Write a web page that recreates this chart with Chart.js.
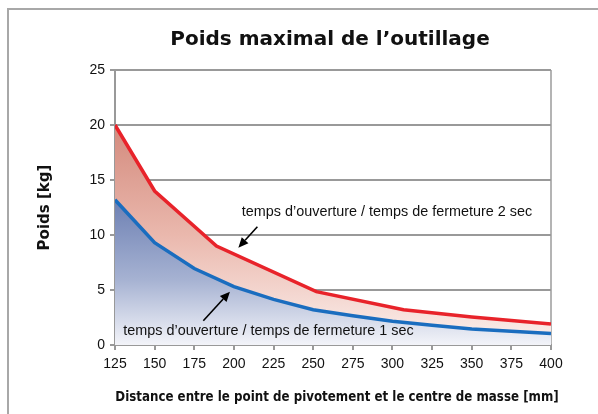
<!DOCTYPE html>
<html>
<head>
<meta charset="utf-8">
<script src="https://cdn.jsdelivr.net/npm/chart.js@4"></script>
<style>
  html, body { margin: 0; padding: 0; background: #fff; }
  #wrap { position: relative; width: 598px; height: 414px; overflow: hidden; }
  #frame { position: absolute; left: 7px; top: 8px; width: 620px; height: 440px; border: 2px solid #a8a8a8; box-sizing: border-box; }
  canvas { position: absolute; left: 0; top: 0; }
</style>
</head>
<body>
<div id="wrap">
  <div id="frame"></div>
  <canvas id="poids-chart" width="598" height="414"></canvas>
</div>
<script>
// distance [mm] / poids [kg]
const distance2s = [125, 150, 189, 252, 307, 350, 400];
const poids2s = [20, 14, 9, 4.85, 3.2, 2.55, 1.9];
const distance1s = [125, 150, 175, 200, 225, 250, 275, 300, 325, 350, 375, 400];
const poids1s = [13.2, 9.3, 6.95, 5.3, 4.15, 3.2, 2.65, 2.15, 1.8, 1.45, 1.24, 1.05];
const xTicks = [125, 150, 175, 200, 225, 250, 275, 300, 325, 350, 375, 400];
const yTicks = [0, 5, 10, 15, 20, 25];

const chartTitle = 'Poids maximal de l\u2019outillage';
const xTitle = 'Distance entre le point de pivotement et le centre de masse [mm]';
const yTitle = 'Poids [kg]';

// annotations, in data units
const notes = ['temps d\u2019ouverture / temps de fermeture 2 sec', 'temps d\u2019ouverture / temps de fermeture 1 sec'];
const noteAt = [[205, 12.1], [130.2, 1.3]];
const arrowFrom = [[214.8, 10.75], [180.7, 2.2]];
const arrowTo = [[202.8, 8.85], [197.5, 4.85]];

const toPoints = (xs, ys) => xs.map((x, i) => ({ x, y: ys[i] }));

function fillGradient(stops, fromValue) {
    return (context) => {
        const { chart } = context;
        const area = chart.chartArea;
        if (!area) return 'transparent';
        const y = chart.scales.y;
        const g = chart.ctx.createLinearGradient(0, y.getPixelForValue(fromValue), 0, area.bottom);
        stops.forEach(([pos, col]) => g.addColorStop(pos, col));
        return g;
    };
}

const textPlugin = {
    id: 'texts',
    afterDraw(chart) {
        const { ctx, chartArea, scales: { x, y } } = chart;
        ctx.save();
        ctx.fillStyle = '#111';
        ctx.textAlign = 'center';
        ctx.textBaseline = 'middle';

        ctx.font = 'bold 20px "DejaVu Sans"';
        ctx.fillText(chartTitle, 330, 40);

        ctx.font = 'bold 13.2px "DejaVu Sans Condensed", "DejaVu Sans"';
        ctx.fillText(xTitle, (chartArea.left + chartArea.right) / 2 + 4, 398);

        ctx.save();
        ctx.translate(45, (chartArea.top + chartArea.bottom) / 2);
        ctx.rotate(-Math.PI / 2);
        ctx.font = 'bold 15px "DejaVu Sans"';
        ctx.fillText(yTitle, 0, 0);
        ctx.restore();

        ctx.textAlign = 'left';
        ctx.font = '14.4px "Liberation Sans"';
        notes.forEach((t, i) => {
            ctx.fillText(t, x.getPixelForValue(noteAt[i][0]), y.getPixelForValue(noteAt[i][1]));
        });

        ctx.strokeStyle = '#000';
        ctx.fillStyle = '#000';
        ctx.lineWidth = 1.6;
        arrowFrom.forEach((from, i) => {
            const x0 = x.getPixelForValue(from[0]);
            const y0 = y.getPixelForValue(from[1]);
            const x1 = x.getPixelForValue(arrowTo[i][0]);
            const y1 = y.getPixelForValue(arrowTo[i][1]);
            const a = Math.atan2(y1 - y0, x1 - x0);
            const head = 10;
            const bx = x1 - head * Math.cos(a);
            const by = y1 - head * Math.sin(a);
            ctx.beginPath();
            ctx.moveTo(x0, y0);
            ctx.lineTo(bx, by);
            ctx.stroke();
            ctx.beginPath();
            ctx.moveTo(x1, y1);
            ctx.lineTo(bx + 4.5 * Math.sin(a), by - 4.5 * Math.cos(a));
            ctx.lineTo(bx - 4.5 * Math.sin(a), by + 4.5 * Math.cos(a));
            ctx.closePath();
            ctx.fill();
        });
        ctx.restore();
    },
};

new Chart(document.getElementById('poids-chart'), {
    type: 'line',
    data: {
        datasets: [
            {
                label: '1 sec',
                data: toPoints(distance1s, poids1s),
                borderColor: '#1a6dbf',
                borderWidth: 3.5,
                pointRadius: 0,
                tension: 0,
                fill: 'origin',
                backgroundColor: fillGradient([[0, '#6d80b3'], [0.55, '#a6b2d2'], [1, '#f3f4f9']], 13.2),
                order: 1,
            },
            {
                label: '2 sec',
                data: toPoints(distance2s, poids2s),
                borderColor: '#e8232a',
                borderWidth: 3.5,
                pointRadius: 0,
                tension: 0,
                fill: '-1',
                backgroundColor: fillGradient([[0, '#d38a7d'], [0.5, '#eab8ad'], [1, '#fcf1ee']], 20),
                order: 2,
            },
        ],
    },
    options: {
        responsive: false,
        animation: false,
        events: [],
        layout: { padding: { top: 70, right: 47, left: 0, bottom: 0 } },
        plugins: {
            legend: { display: false },
            title: { display: false },
            tooltip: { enabled: false },
        },
        scales: {
            x: {
                type: 'linear',
                min: xTicks[0],
                max: xTicks[xTicks.length - 1],
                afterBuildTicks: (scale) => { scale.ticks = xTicks.map((v) => ({ value: v })); },
                afterFit: (scale) => { scale.height = 69; },
                grid: {
                    color: (c) => (c.tick && c.tick.value === 400 ? '#b4b4b4' : 'rgba(0,0,0,0)'),
                    tickColor: '#999',
                    lineWidth: 2,
                    tickLength: 5,
                },
                border: { color: '#999', width: 2 },
                ticks: {
                    color: '#111',
                    padding: 6,
                    maxRotation: 0,
                    autoSkip: false,
                    font: { family: '"Liberation Sans"', size: 14 },
                },
            },
            y: {
                min: yTicks[0],
                max: yTicks[yTicks.length - 1],
                afterBuildTicks: (scale) => { scale.ticks = yTicks.map((v) => ({ value: v })); },
                afterFit: (scale) => { scale.width = 115; },
                grid: { color: '#999', lineWidth: 2, tickLength: 5 },
                border: { color: '#999', width: 2 },
                ticks: {
                    color: '#111',
                    padding: 5,
                    font: { family: '"Liberation Sans"', size: 14 },
                },
            },
        },
    },
    plugins: [textPlugin],
});
</script>
</body>
</html>
